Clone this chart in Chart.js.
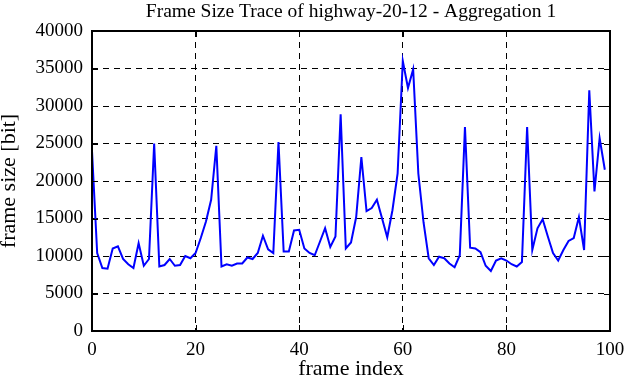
<!DOCTYPE html>
<html>
<head>
<meta charset="utf-8">
<script src="https://cdn.jsdelivr.net/npm/chart.js@4/dist/chart.umd.min.js"></script>
<style>
  html, body { margin: 0; padding: 0; background: #fff; }
  #wrap { width: 626px; height: 382px; }
</style>
</head>
<body>
<div id="wrap"><canvas id="c" width="626" height="382"></canvas></div>
<script>
// Frame sizes [bit] per frame index
const frameSizes = [
  24000, 10400, 8400, 8300, 11000, 11300, 9600, 8900, 8400, 11700,
  8700, 9600, 25000, 8600, 8800, 9600, 8700, 8800, 10000, 9700,
  10400, 12400, 14600, 17500, 24700, 8600, 8900, 8700, 9000, 9000,
  9800, 9600, 10400, 12700, 10900, 10400, 25200, 10600, 10600, 13400,
  13500, 11000, 10400, 10100, 11900, 13700, 11200, 12600, 28900, 11000,
  11800, 15200, 23200, 16000, 16400, 17500, 15000, 12500, 16100, 21000,
  36000, 32400, 34900, 21000, 14500, 9700, 8800, 9900, 9700, 9000,
  8500, 10100, 27200, 11100, 11000, 10500, 8700, 8000, 9400, 9700,
  9400, 8900, 8600, 9200, 27200, 10800, 13700, 14900, 12600, 10400,
  9400, 10800, 12000, 12400, 15200, 10800, 32100, 18600, 25700, 21500
];
const frameIndex = frameSizes.map((_, i) => i);
const xTicks = [0, 20, 40, 60, 80, 100];
const yTicks = [0, 5000, 10000, 15000, 20000, 25000, 30000, 35000, 40000];

const titleText = 'Frame Size Trace of highway-20-12 - Aggregation 1';
const xTitle = 'frame index';
const yTitle = 'frame size [bit]';

const FONT = '"Liberation Serif", "DejaVu Serif", serif';

const framePlugin = {
  id: 'frameTicks',
  afterDraw(chart) {
    const {ctx, chartArea: a, scales: {x, y}} = chart;
    ctx.save();
    ctx.strokeStyle = '#000';
    ctx.lineWidth = 1;
    const tl = 6;
    ctx.beginPath();
    xTicks.forEach(v => {
      const px = Math.round(x.getPixelForValue(v)) + 0.5;
      ctx.moveTo(px, a.bottom); ctx.lineTo(px, a.bottom - tl);
      ctx.moveTo(px, a.top); ctx.lineTo(px, a.top + tl);
    });
    yTicks.forEach(v => {
      const py = Math.round(y.getPixelForValue(v)) + 0.5;
      ctx.moveTo(a.left, py); ctx.lineTo(a.left + tl, py);
      ctx.moveTo(a.right, py); ctx.lineTo(a.right - tl, py);
    });
    ctx.stroke();
    ctx.lineWidth = 2;
    ctx.strokeRect(a.left, a.top, a.right - a.left, a.bottom - a.top);
    ctx.restore();
  }
};

new Chart(document.getElementById('c'), {
  type: 'line',
  data: {
    labels: frameIndex,
    datasets: [{
      data: frameSizes,
      borderColor: '#0000ff',
      borderWidth: 2,
      pointRadius: 0,
      fill: false,
      tension: 0
    }]
  },
  options: {
    responsive: false,
    animation: false,
    devicePixelRatio: 1,
    layout: { padding: { left: 0, right: 16, top: 0, bottom: 0 } },
    plugins: {
      legend: { display: false },
      tooltip: { enabled: false },
      title: {
        display: true,
        text: titleText,
        color: '#000',
        fullSize: false,
        font: { family: FONT, size: 19.5, weight: 'normal', lineHeight: 1.2 },
        padding: { top: 0, bottom: 7.6 }
      }
    },
    scales: {
      x: {
        type: 'linear',
        min: 0, max: 100,
        afterBuildTicks(s) { s.ticks = xTicks.map(v => ({ value: v })); },
        afterFit(s) { s.height = 51; s.paddingLeft = 0; s.paddingRight = 0; },
        grid: { color: '#000', lineWidth: 1, drawTicks: false },
        border: { display: false, dash: [6, 5] },
        ticks: { color: '#000', font: { family: FONT, size: 19 }, padding: 8, maxRotation: 0 },
        title: {
          display: true, text: xTitle, color: '#000',
          font: { family: FONT, size: 22, lineHeight: 1.2 }, padding: { top: 0, bottom: 0 }
        }
      },
      y: {
        type: 'linear',
        min: 0, max: 40000,
        afterBuildTicks(s) { s.ticks = yTicks.map(v => ({ value: v })); },
        afterFit(s) { s.width = 92; s.paddingTop = 0; s.paddingBottom = 0; },
        grid: { color: '#000', lineWidth: 1, drawTicks: false },
        border: { display: false, dash: [6, 5] },
        ticks: { color: '#000', font: { family: FONT, size: 19 }, padding: 9,
                 callback: v => String(v) },
        title: {
          display: true, text: yTitle, color: '#000',
          font: { family: FONT, size: 22, lineHeight: 0.85 }, padding: { top: 0, bottom: 0 }
        }
      }
    }
  },
  plugins: [framePlugin]
});
</script>
</body>
</html>
